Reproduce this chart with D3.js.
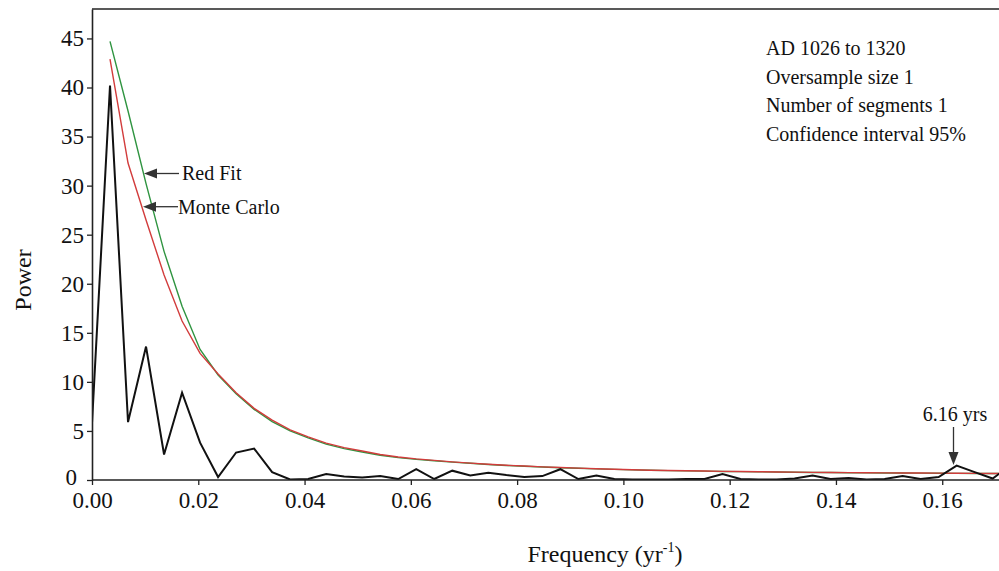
<!DOCTYPE html>
<html>
<head>
<meta charset="utf-8">
<script src="https://cdn.jsdelivr.net/npm/d3@7"></script>
<style>
  html, body { margin: 0; padding: 0; background: #fff; }
  svg { display: block; }
  text { font-family: "Liberation Serif", "Times New Roman", serif; fill: #111; }
</style>
</head>
<body>
<script>
// ---------- data ----------
const freqStep = 1 / 295;           // AD 1026 to 1320
const spectrumIndex = d3.range(0, 52);
const observedPower = [5.8, 40.2, 5.9, 13.6, 2.6, 8.9, 3.8, 0.3, 2.8, 3.2,
  0.8, 0.05, 0.1, 0.6, 0.35, 0.25, 0.4, 0.1, 1.1, 0.1,
  0.95, 0.45, 0.75, 0.5, 0.3, 0.4, 1.1, 0.1, 0.45, 0.1,
  0.05, 0.05, 0.05, 0.1, 0.1, 0.6, 0.1, 0.05, 0.05, 0.15,
  0.45, 0.1, 0.2, 0.05, 0.1, 0.4, 0.1, 0.3, 1.46, 0.8,
  0.15, 1.5];
const monteCarloPower = [null, 42.9, 32.3, 26.5, 20.9, 16.2, 12.9, 10.8, 8.9, 7.3,
  6.1, 5.1, 4.4, 3.75, 3.3, 2.95, 2.6, 2.35, 2.15, 2.0,
  1.85, 1.72, 1.6, 1.5, 1.42, 1.34, 1.27, 1.21, 1.15, 1.1,
  1.05, 1.0, 0.97, 0.94, 0.91, 0.88, 0.86, 0.84, 0.82, 0.8,
  0.78, 0.77, 0.75, 0.74, 0.73, 0.72, 0.71, 0.7, 0.69, 0.68,
  0.67, 0.66];
const redFitPower = [null, 44.7, 37.6, 30.2, 23.3, 17.7, 13.3, 10.7, 8.8, 7.2,
  5.95, 5.0, 4.3, 3.65, 3.2, 2.85, 2.52, 2.28, 2.1, 1.96,
  1.82, 1.7, 1.58, 1.48, 1.4, 1.32, 1.25, 1.19, 1.13, 1.08,
  1.03, 0.99, 0.96, 0.93, 0.9, 0.87, 0.85, 0.83, 0.81, 0.79,
  0.77, 0.76, 0.74, 0.73, 0.72, 0.71, 0.7, 0.69, 0.68, 0.67,
  0.66, 0.65];
const xTicks = [0, 0.02, 0.04, 0.06, 0.08, 0.10, 0.12, 0.14, 0.16];
const yTicks = [0, 5, 10, 15, 20, 25, 30, 35, 40, 45];
const infoLines = ["AD 1026 to 1320", "Oversample size 1", "Number of segments 1", "Confidence interval 95%"];

// ---------- layout ----------
const W = 999, H = 571;
const L = 92, T = 9, R = 1006, B = 480;

const svg = d3.select("body").append("svg").attr("width", W).attr("height", H);

const x = d3.scaleLinear().domain([0, 0.172]).range([L, R]);
const y = d3.scaleLinear().domain([0, 48]).range([B, T]);

svg.append("defs").append("clipPath").attr("id", "clip")
  .append("rect").attr("x", L).attr("y", T).attr("width", R - L).attr("height", B - T);

const pts = arr => spectrumIndex.map(k => ({ f: k * freqStep, v: arr[k] })).filter(d => d.v != null);
const line = d3.line().x(d => x(d.f)).y(d => y(d.v));

const g = svg.append("g").attr("clip-path", "url(#clip)");
g.append("path").datum(pts(redFitPower)).attr("d", line)
  .attr("fill", "none").attr("stroke", "#2f9440").attr("stroke-width", 1.4);
g.append("path").datum(pts(monteCarloPower)).attr("d", line)
  .attr("fill", "none").attr("stroke", "#d23c3c").attr("stroke-width", 1.4);
g.append("path").datum(pts(observedPower)).attr("d", line)
  .attr("fill", "none").attr("stroke", "#111").attr("stroke-width", 2).attr("stroke-linejoin", "miter");

// frame top
svg.append("line").attr("x1", L).attr("x2", W).attr("y1", T).attr("y2", T)
  .attr("stroke", "#222").attr("stroke-width", 1.6);

// axes
const xAxis = svg.append("g").attr("transform", `translate(0,${B})`)
  .call(d3.axisBottom(x).tickValues(xTicks).tickFormat(d3.format(".2f")).tickSize(5).tickSizeOuter(0));
const yAxis = svg.append("g").attr("transform", `translate(${L},0)`)
  .call(d3.axisLeft(y).tickValues(yTicks).tickSize(5).tickSizeOuter(0));
[xAxis, yAxis].forEach(a => {
  a.select(".domain").attr("stroke", "#222").attr("stroke-width", 1.6);
  a.selectAll(".tick line").attr("stroke", "#222").attr("stroke-width", 1.3);
  a.selectAll("text").attr("font-family", "Liberation Serif, serif").attr("font-size", 23).attr("fill", "#111");
});
xAxis.select(".domain").attr("d", `M${L},0H${W}`);
xAxis.selectAll(".tick text").attr("dy", null).attr("y", 28);
yAxis.selectAll(".tick text").attr("x", -8);
yAxis.selectAll(".tick").filter(d => d === 0).select("text").attr("x", -15).attr("dy", "0.2em");

// axis titles
svg.append("text").attr("transform", "translate(31,280) rotate(-90)")
  .attr("text-anchor", "middle").attr("font-size", 24).text("Power");
const xt = svg.append("text").attr("x", 605).attr("y", 562).attr("text-anchor", "middle").attr("font-size", 24);
xt.append("tspan").text("Frequency (yr");
xt.append("tspan").attr("font-size", 14).attr("dy", -10).text("-1");
xt.append("tspan").attr("dy", 10).text(")");

// info text
svg.append("g").selectAll("text").data(infoLines).join("text")
  .attr("x", 766).attr("y", (d, i) => 55 + i * 28.6).attr("font-size", 20).text(d => d);

// annotations with arrows
const arrowColor = "#333";
function hArrow(tipX, tailX, yy) {
  svg.append("line").attr("x1", tipX + 10).attr("x2", tailX).attr("y1", yy).attr("y2", yy)
    .attr("stroke", arrowColor).attr("stroke-width", 1.3);
  svg.append("path").attr("d", `M${tipX},${yy}L${tipX + 13},${yy - 5}L${tipX + 13},${yy + 5}Z`).attr("fill", arrowColor);
}
hArrow(144, 179, 173.5);
svg.append("text").attr("x", 182).attr("y", 180).attr("font-size", 20).text("Red Fit");
hArrow(143, 178, 206.7);
svg.append("text").attr("x", 178).attr("y", 214).attr("font-size", 20).text("Monte Carlo");

const px = 953.5;
svg.append("line").attr("x1", px).attr("x2", px).attr("y1", 427).attr("y2", 456)
  .attr("stroke", arrowColor).attr("stroke-width", 1.3);
svg.append("path").attr("d", `M${px},465L${px - 5},452L${px + 5},452Z`).attr("fill", arrowColor);
svg.append("text").attr("x", 955).attr("y", 421).attr("text-anchor", "middle").attr("font-size", 20).text("6.16 yrs");
</script>
</body>
</html>
